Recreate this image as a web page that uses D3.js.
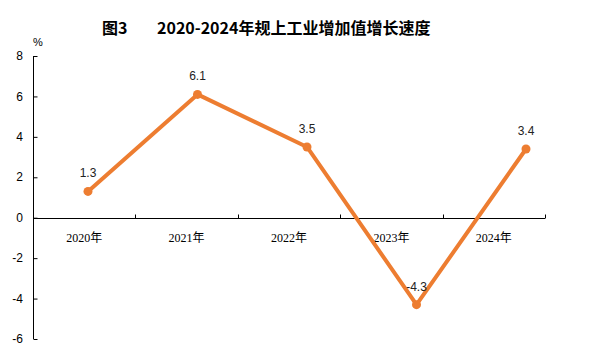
<!DOCTYPE html>
<html><head><meta charset="utf-8">
<script src="https://cdn.jsdelivr.net/npm/d3@7/dist/d3.min.js"></script>
<style>body{margin:0;background:#fff}svg{display:block}</style>
</head><body>
<svg id="c" width="599" height="359"></svg>
<script>
const categories = ["2020年","2021年","2022年","2023年","2024年"];
const values = [1.3, 6.1, 3.5, -4.3, 3.4];
const yTicks = [8, 6, 4, 2, 0, -2, -4, -6];
const titleA = "图3";
const titleB = "2020-2024年规上工业增加值增长速度";
const unit = "%";

const svg = d3.select("#c");
const x0 = 33, x1 = 545;
const y = d3.scaleLinear().domain([-6, 8]).range([339, 56]);
const xBand = d3.scaleBand().domain(categories).range([x0, x1]);
const xPt = d3.scalePoint().domain(categories).range([88, 526]);

// title
svg.append("text").attr("x", 102).attr("y", 34).text(titleA)
  .attr("font-family", "Noto Sans CJK SC").attr("font-weight", "bold").attr("font-size", 16).attr("fill", "#000");
svg.append("text").attr("x", 157).attr("y", 34).text(titleB)
  .attr("font-family", "Noto Sans CJK SC").attr("font-weight", "bold").attr("font-size", 16).attr("fill", "#000");
svg.append("text").attr("x", 38).attr("y", 46).attr("text-anchor", "middle").text(unit)
  .attr("font-family", "Liberation Sans").attr("font-size", 11).attr("fill", "#000");

// y axis
const yAxis = d3.axisRight(y).tickValues(yTicks).tickSize(4).tickFormat("");
const gy = svg.append("g").attr("transform", `translate(${x0},0)`).call(yAxis);
gy.select(".domain").attr("d", `M0.5,${y(8)}V${y(-6)}`).attr("stroke", "#000");
gy.selectAll(".tick line").attr("stroke", "#000").attr("transform", "translate(0.5,0)");
svg.append("g").selectAll("text").data(yTicks).join("text")
  .attr("x", 23).attr("y", d => y(d)).attr("dy", "0.35em").attr("text-anchor", "end")
  .text(d => d).attr("font-family", "Liberation Sans").attr("font-size", 12).attr("fill", "#000");

// x axis at zero
const y0 = Math.round(y(0)) + 0.5;
const gx = svg.append("g").attr("transform", `translate(0,${y0})`);
gx.append("line").attr("x1", x0).attr("x2", x1).attr("stroke", "#000");
const bounds = categories.map(c => xBand(c) + xBand.bandwidth()).map(Math.round);
gx.selectAll("line.t").data(bounds).join("line").attr("class", "t")
  .attr("x1", d => d + 0.5).attr("x2", d => d + 0.5).attr("y1", 0).attr("y2", -4).attr("stroke", "#000");
gx.selectAll("text").data(categories).join("text")
  .attr("x", d => xBand(d) + xBand.bandwidth() / 2).attr("y", 23).attr("text-anchor", "middle")
  .text(d => d).attr("font-family", "Liberation Serif, Noto Sans CJK SC").attr("font-size", 12).attr("fill", "#000");

// line
const color = "#ED7D31";
const line = d3.line().x((d, i) => xPt(categories[i])).y(d => y(d));
svg.append("path").datum(values).attr("d", line).attr("fill", "none")
  .attr("stroke", color).attr("stroke-width", 4).attr("stroke-linejoin", "round");
svg.selectAll("circle.p").data(values).join("circle").attr("class", "p")
  .attr("cx", (d, i) => xPt(categories[i])).attr("cy", d => y(d)).attr("r", 4.5).attr("fill", color);
svg.selectAll("text.l").data(values).join("text").attr("class", "l")
  .attr("x", (d, i) => xPt(categories[i])).attr("y", d => y(d) - 14).attr("text-anchor", "middle")
  .text(d => d.toFixed(1)).attr("font-family", "Liberation Sans").attr("font-size", 12).attr("fill", "#222");
</script>
</body></html>
